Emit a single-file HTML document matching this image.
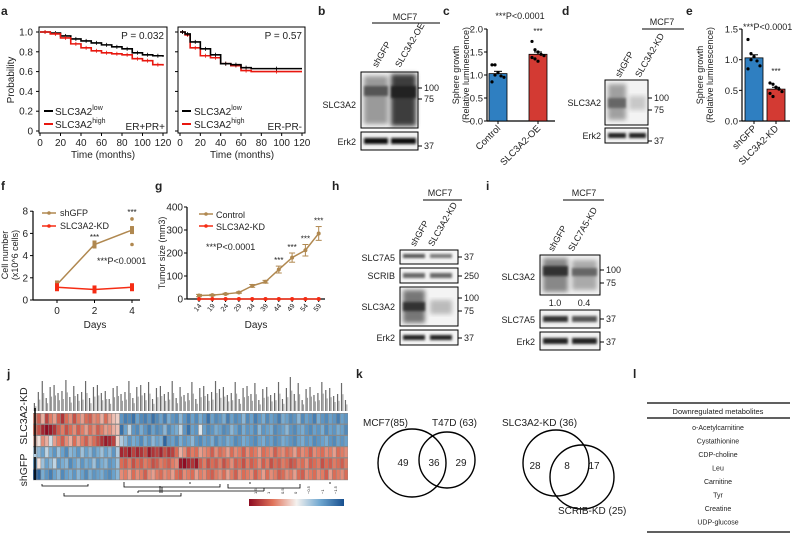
<!DOCTYPE html>
<html><head><meta charset="utf-8"><style>
html,body{margin:0;padding:0;background:#fff;}
svg{display:block;font-family:"Liberation Sans",sans-serif;}
text{fill:#222;}
</style></head><body>
<svg id="fig" width="798" height="534" viewBox="0 0 798 534">
<defs>
<filter id="bl" x="-20%" y="-50%" width="140%" height="200%"><feGaussianBlur stdDeviation="1.2"/></filter>
<filter id="bl2" x="-20%" y="-20%" width="140%" height="140%"><feGaussianBlur stdDeviation="2.5"/></filter>
<linearGradient id="cbar" x1="0" x2="1" y1="0" y2="0">
<stop offset="0" stop-color="#8e0c22"/><stop offset="0.25" stop-color="#e0735a"/><stop offset="0.5" stop-color="#f5f2ef"/><stop offset="0.75" stop-color="#6fa7d0"/><stop offset="1" stop-color="#174f8f"/></linearGradient>
</defs>
<g font-weight="bold" font-size="12">
<text x="1" y="15">a</text><text x="318" y="15">b</text><text x="443" y="15">c</text><text x="562" y="15">d</text><text x="686" y="15">e</text>
<text x="1" y="190">f</text><text x="155" y="190">g</text><text x="332" y="190">h</text><text x="486" y="190">i</text>
<text x="7" y="378">j</text><text x="356" y="378">k</text><text x="633" y="378">l</text>
</g>
<!-- panel a -->
<g font-size="10">
<rect x="39" y="27" width="128" height="106" fill="none" stroke="#000" stroke-width="1"/>
<rect x="178" y="27" width="127" height="106" fill="none" stroke="#000" stroke-width="1"/>
<g id="kmAxes"></g>
<text x="14" y="80" transform="rotate(-90 14 80)" text-anchor="middle">Probability</text>
<text x="103" y="158" text-anchor="middle">Time (months)</text>
<text x="242" y="158" text-anchor="middle">Time (months)</text>
<text x="164" y="39" text-anchor="end">P = 0.032</text>
<text x="302" y="39" text-anchor="end">P = 0.57</text>
<text x="165" y="130" text-anchor="end">ER+PR+</text>
<text x="302" y="130" text-anchor="end">ER-PR-</text>
<g>
<line x1="44" x2="53" y1="111" y2="111" stroke="#000" stroke-width="2"/>
<text x="55" y="115">SLC3A2<tspan font-size="7" dy="-5">low</tspan></text>
<line x1="44" x2="53" y1="124" y2="124" stroke="#e8170f" stroke-width="2"/>
<text x="55" y="128">SLC3A2<tspan font-size="7" dy="-5">high</tspan></text></g>
<g>
<line x1="182" x2="191" y1="111" y2="111" stroke="#000" stroke-width="2"/>
<text x="194" y="115">SLC3A2<tspan font-size="7" dy="-5">low</tspan></text>
<line x1="182" x2="191" y1="124" y2="124" stroke="#e8170f" stroke-width="2"/>
<text x="194" y="128">SLC3A2<tspan font-size="7" dy="-5">high</tspan></text></g>
<g id="kmLines"></g>
</g>
<!-- panel b blot -->
<g font-size="9">
<text x="405" y="20" text-anchor="middle">MCF7</text>
<line x1="372" x2="440" y1="23" y2="23" stroke="#000"/>
<text x="377" y="68" transform="rotate(-60 377 68)">shGFP</text>
<text x="400" y="68" transform="rotate(-60 400 68)">SLC3A2-OE</text>
<rect x="361" y="72" width="57" height="56" fill="#f2f2f2" stroke="#000"/>
<rect x="364" y="76" width="24" height="48" fill="#9a9a9a" filter="url(#bl2)"/>
<rect x="391" y="74" width="25" height="52" fill="#3d3d3d" filter="url(#bl2)"/>
<rect x="364" y="86" width="24" height="10" fill="#555" filter="url(#bl)"/>
<rect x="391" y="86" width="25" height="12" fill="#222" filter="url(#bl)"/>
<rect x="361" y="132" width="57" height="18" fill="#f2f2f2" stroke="#000"/>
<rect x="364" y="138" width="24" height="6" fill="#111" filter="url(#bl)"/>
<rect x="391" y="138" width="25" height="6" fill="#111" filter="url(#bl)"/>
<text x="356" y="108" text-anchor="end">SLC3A2</text>
<text x="356" y="145" text-anchor="end">Erk2</text>
<line x1="418" x2="422" y1="88" y2="88" stroke="#000"/><text x="424" y="91">100</text>
<line x1="418" x2="422" y1="99" y2="99" stroke="#000"/><text x="424" y="102">75</text>
<line x1="418" x2="422" y1="146" y2="146" stroke="#000"/><text x="424" y="149">37</text>
</g>
<!-- panel c -->
<g font-size="9">
<text x="520" y="19" text-anchor="middle" font-size="9">***P&lt;0.0001</text>
<text x="459" y="75" transform="rotate(-90 459 75)" text-anchor="middle" font-size="9">Sphere growth</text>
<text x="469" y="75" transform="rotate(-90 469 75)" text-anchor="middle" font-size="9">(Relative luminescence)</text>
<g id="cChart"></g>
</g>
<!-- panel d blot -->
<g font-size="9">
<text x="662" y="25" text-anchor="middle">MCF7</text>
<line x1="642" x2="684" y1="29" y2="29" stroke="#000"/>
<text x="620" y="78" transform="rotate(-60 620 78)">shGFP</text>
<text x="640" y="78" transform="rotate(-60 640 78)">SLC3A2-KD</text>
<rect x="605" y="80" width="43" height="45" fill="#f3f3f3" stroke="#000"/>
<rect x="608" y="84" width="18" height="36" fill="#a0a0a0" filter="url(#bl2)"/>
<rect x="608" y="98" width="18" height="10" fill="#666" filter="url(#bl)"/>
<rect x="629" y="96" width="17" height="14" fill="#c8c8c8" filter="url(#bl2)"/>
<rect x="605" y="128" width="43" height="15" fill="#f3f3f3" stroke="#000"/>
<rect x="608" y="133" width="18" height="5" fill="#222" filter="url(#bl)"/>
<rect x="629" y="133" width="17" height="5" fill="#222" filter="url(#bl)"/>
<text x="601" y="106" text-anchor="end">SLC3A2</text>
<text x="601" y="139" text-anchor="end">Erk2</text>
<line x1="648" x2="652" y1="98" y2="98" stroke="#000"/><text x="654" y="101">100</text>
<line x1="648" x2="652" y1="110" y2="110" stroke="#000"/><text x="654" y="113">75</text>
<line x1="648" x2="652" y1="141" y2="141" stroke="#000"/><text x="654" y="144">37</text>
</g>
<!-- panel e -->
<g font-size="9">
<text x="743" y="30" font-size="9">***P&lt;0.0001</text>
<text x="703" y="75" transform="rotate(-90 703 75)" text-anchor="middle" font-size="9">Sphere growth</text>
<text x="713" y="75" transform="rotate(-90 713 75)" text-anchor="middle" font-size="9">(Relative luminescence)</text>
<g id="eChart"></g>
</g>
<!-- panel f -->
<g font-size="10">
<text x="8" y="255" transform="rotate(-90 8 255)" text-anchor="middle" font-size="9">Cell number</text>
<text x="18" y="255" transform="rotate(-90 18 255)" text-anchor="middle" font-size="9">(x10^6 cells)</text>
<text x="95" y="328" text-anchor="middle">Days</text>
<text x="97" y="264" font-size="9">***P&lt;0.0001</text>
<g>
<line x1="42" x2="56" y1="213" y2="213" stroke="#b08850" stroke-width="1.5"/><circle cx="49" cy="213" r="1.8" fill="#b08850"/>
<text x="60" y="216" font-size="9">shGFP</text>
<line x1="42" x2="56" y1="226" y2="226" stroke="#f52c14" stroke-width="1.5"/><circle cx="49" cy="226" r="1.8" fill="#f52c14"/>
<text x="60" y="229" font-size="9">SLC3A2-KD</text></g>
<g id="fChart"></g>
</g>
<!-- panel g -->
<g font-size="10">
<text x="165" y="253" transform="rotate(-90 165 253)" text-anchor="middle" font-size="9">Tumor size (mm3)</text>
<text x="256" y="328" text-anchor="middle">Days</text>
<text x="206" y="250" font-size="9">***P&lt;0.0001</text>
<g>
<line x1="199" x2="213" y1="214" y2="214" stroke="#b08850" stroke-width="1.5"/><circle cx="206" cy="214" r="1.8" fill="#b08850"/>
<text x="216" y="218" font-size="9">Control</text>
<line x1="199" x2="213" y1="226" y2="226" stroke="#f52c14" stroke-width="1.5"/><circle cx="206" cy="226" r="1.8" fill="#f52c14"/>
<text x="216" y="230" font-size="9">SLC3A2-KD</text></g>
<g id="gChart"></g>
</g>
<!-- panel h blot -->
<g font-size="9">
<text x="440" y="196" text-anchor="middle">MCF7</text>
<line x1="423" x2="462" y1="200" y2="200" stroke="#000"/>
<text x="415" y="247" transform="rotate(-60 415 247)">shGFP</text>
<text x="433" y="247" transform="rotate(-60 433 247)">SLC3A2-KD</text>
<rect x="400" y="250" width="58" height="14" fill="#f4f4f4" stroke="#000"/>
<rect x="403" y="254" width="22" height="4" fill="#555" filter="url(#bl)"/>
<rect x="430" y="254" width="22" height="4" fill="#777" filter="url(#bl)"/>
<rect x="400" y="268" width="58" height="15" fill="#f4f4f4" stroke="#000"/>
<rect x="403" y="273" width="22" height="5" fill="#666" filter="url(#bl)"/>
<rect x="430" y="273" width="22" height="5" fill="#666" filter="url(#bl)"/>
<rect x="400" y="287" width="58" height="39" fill="#f4f4f4" stroke="#000"/>
<rect x="403" y="290" width="22" height="33" fill="#777" filter="url(#bl2)"/>
<rect x="403" y="302" width="22" height="9" fill="#333" filter="url(#bl)"/>
<rect x="430" y="300" width="22" height="14" fill="#bbb" filter="url(#bl2)"/>
<rect x="400" y="330" width="58" height="15" fill="#f4f4f4" stroke="#000"/>
<rect x="403" y="335" width="22" height="5" fill="#222" filter="url(#bl)"/>
<rect x="430" y="335" width="22" height="5" fill="#222" filter="url(#bl)"/>
<text x="395" y="261" text-anchor="end">SLC7A5</text>
<text x="395" y="279" text-anchor="end">SCRIB</text>
<text x="395" y="310" text-anchor="end">SLC3A2</text>
<text x="395" y="341" text-anchor="end">Erk2</text>
<line x1="458" x2="462" y1="257" y2="257" stroke="#000"/><text x="464" y="260">37</text>
<line x1="458" x2="462" y1="276" y2="276" stroke="#000"/><text x="464" y="279">250</text>
<line x1="458" x2="462" y1="298" y2="298" stroke="#000"/><text x="464" y="301">100</text>
<line x1="458" x2="462" y1="311" y2="311" stroke="#000"/><text x="464" y="314">75</text>
<line x1="458" x2="462" y1="338" y2="338" stroke="#000"/><text x="464" y="341">37</text>
</g>
<!-- panel i blot -->
<g font-size="9">
<text x="584" y="196" text-anchor="middle">MCF7</text>
<line x1="563" x2="604" y1="200" y2="200" stroke="#000"/>
<text x="553" y="252" transform="rotate(-60 553 252)">shGFP</text>
<text x="573" y="252" transform="rotate(-60 573 252)">SLC7A5-KD</text>
<rect x="540" y="255" width="60" height="40" fill="#f2f2f2" stroke="#000"/>
<rect x="543" y="258" width="25" height="34" fill="#888" filter="url(#bl2)"/>
<rect x="543" y="266" width="25" height="10" fill="#333" filter="url(#bl)"/>
<rect x="572" y="260" width="25" height="30" fill="#aaa" filter="url(#bl2)"/>
<rect x="572" y="268" width="25" height="8" fill="#666" filter="url(#bl)"/>
<text x="555" y="306" text-anchor="middle">1.0</text><text x="584" y="306" text-anchor="middle">0.4</text>
<rect x="540" y="310" width="60" height="18" fill="#f2f2f2" stroke="#000"/>
<rect x="543" y="316" width="25" height="6" fill="#333" filter="url(#bl)"/>
<rect x="572" y="316" width="25" height="6" fill="#555" filter="url(#bl)"/>
<rect x="540" y="332" width="60" height="18" fill="#f2f2f2" stroke="#000"/>
<rect x="543" y="338" width="25" height="6" fill="#222" filter="url(#bl)"/>
<rect x="572" y="338" width="25" height="6" fill="#222" filter="url(#bl)"/>
<text x="535" y="280" text-anchor="end">SLC3A2</text>
<text x="535" y="323" text-anchor="end">SLC7A5</text>
<text x="535" y="345" text-anchor="end">Erk2</text>
<line x1="600" x2="604" y1="270" y2="270" stroke="#000"/><text x="606" y="273">100</text>
<line x1="600" x2="604" y1="283" y2="283" stroke="#000"/><text x="606" y="286">75</text>
<line x1="600" x2="604" y1="319" y2="319" stroke="#000"/><text x="606" y="322">37</text>
<line x1="600" x2="604" y1="342" y2="342" stroke="#000"/><text x="606" y="345">37</text>
</g>
<!-- panel j -->
<g>
<g id="hmLabels"></g>
<g id="heatmap"></g>
<line x1="35" x2="35" y1="408" y2="454" stroke="#000" stroke-width="1.5"/>
<line x1="35" x2="35" y1="457" y2="480" stroke="#000" stroke-width="1.5"/>
<text x="27" y="416" transform="rotate(-90 27 416)" text-anchor="middle" font-size="10.5">SLC3A2-KD</text>
<text x="27" y="470" transform="rotate(-90 27 470)" text-anchor="middle" font-size="10.5">shGFP</text>
<path d="M64 493 V496 H181 V493 M42 484 V486 H88 V484 M124 484 V487 H220 V484 M162 487 V493 M160 493 V486 M124 482 V484 M190 482 V484 M228 484 V488 H300 V484 M264 488 V491 M138 491 V493 M264 491 H138 M250 482 V484 M330 482 V484" fill="none" stroke="#000" stroke-width="0.8"/>
<rect x="249" y="499" width="95" height="7" fill="url(#cbar)"/>
<g font-size="4" fill="#333">
<text x="257" y="494" transform="rotate(-90 257 494)">1.5</text><text x="270" y="494" transform="rotate(-90 270 494)">1</text>
<text x="284" y="494" transform="rotate(-90 284 494)">0.5</text><text x="297" y="494" transform="rotate(-90 297 494)">0</text>
<text x="310" y="494" transform="rotate(-90 310 494)">−0.5</text><text x="324" y="494" transform="rotate(-90 324 494)">−1</text>
<text x="337" y="494" transform="rotate(-90 337 494)">−1.5</text></g>
</g>
<!-- panel k -->
<g font-size="10" fill="none">
<circle cx="412" cy="463" r="34" fill="none" stroke="#000" stroke-width="1.4"/>
<circle cx="447" cy="460" r="28" fill="none" stroke="#000" stroke-width="1.4"/>
<circle cx="556" cy="463" r="33" fill="none" stroke="#000" stroke-width="1.4"/>
<circle cx="582" cy="477" r="32" fill="none" stroke="#000" stroke-width="1.4"/>
<text x="363" y="426">MCF7(85)</text><text x="432" y="426">T47D (63)</text>
<text x="403" y="466" text-anchor="middle">49</text><text x="434" y="466" text-anchor="middle">36</text><text x="461" y="466" text-anchor="middle">29</text>
<text x="502" y="426">SLC3A2-KD (36)</text><text x="558" y="514">SCRIB-KD (25)</text>
<text x="535" y="469" text-anchor="middle">28</text><text x="567" y="469" text-anchor="middle">8</text><text x="594" y="469" text-anchor="middle">17</text>
</g>
<!-- panel l -->
<g font-size="7" text-anchor="middle">
<line x1="647" x2="790" y1="403" y2="403" stroke="#000" stroke-width="1.3"/>
<line x1="647" x2="790" y1="418" y2="418" stroke="#000" stroke-width="1.3"/>
<line x1="647" x2="790" y1="532" y2="532" stroke="#000" stroke-width="1.3"/>
<text x="718" y="414" font-size="7.5">Downregulated metabolites</text>
<text x="718" y="430">o-Acetylcarnitine</text><text x="718" y="443.5">Cystathionine</text>
<text x="718" y="457">CDP-choline</text><text x="718" y="470.5">Leu</text>
<text x="718" y="484">Carnitine</text><text x="718" y="497.5">Tyr</text>
<text x="718" y="511">Creatine</text><text x="718" y="524.5">UDP-glucose</text>
</g>
</svg>
<script>
// ---------- data ----------
const kmTicksY = [0, 0.2, 0.4, 0.6, 0.8, 1.0];
const kmTickLabelsY = ["0", "0.2", "0.4", "0.6", "0.8", "1.0"];
const kmTicksX = [0, 20, 40, 60, 80, 100, 120];
const km1LowT = [0,10,20,30,40,50,60,70,80,90,100,110,120];
const km1LowP = [1,0.99,0.96,0.93,0.91,0.89,0.87,0.85,0.83,0.79,0.77,0.76,0.75];
const km1HighT = [0,10,20,30,40,50,60,70,80,90,100,110,120];
const km1HighP = [1,0.98,0.94,0.88,0.84,0.81,0.79,0.78,0.77,0.73,0.71,0.67,0.66];
const km2LowT = [0,5,10,20,30,40,50,60,70,120];
const km2LowP = [1,0.98,0.9,0.83,0.77,0.68,0.67,0.64,0.63,0.63];
const km2HighT = [0,5,10,20,30,40,50,60,70,120];
const km2HighP = [1,0.97,0.84,0.76,0.74,0.68,0.66,0.61,0.6,0.6];

const cCategories = ["Control", "SLC3A2-OE"];
const cMeans = [1.03, 1.45];
const cErr = [0.05, 0.05];
const cPointsControl = [1.22, 1.22, 1.05, 0.98, 0.95, 0.85, 1.0];
const cPointsOE = [1.73, 1.55, 1.5, 1.45, 1.42, 1.38, 1.35, 1.3];
const cTicks = [0, 0.5, 1.0, 1.5, 2.0];
const cTickLabels = ["0.0", "0.5", "1.0", "1.5", "2.0"];

const eCategories = ["shGFP", "SLC3A2-KD"];
const eMeans = [1.03, 0.52];
const eErr = [0.05, 0.03];
const ePointsGFP = [1.33, 1.1, 1.05, 0.98, 0.9, 0.85, 1.0];
const ePointsKD = [0.62, 0.6, 0.55, 0.52, 0.48, 0.45, 0.4, 0.55];
const eTicks = [0, 0.5, 1.0, 1.5];
const eTickLabels = ["0.0", "0.5", "1.0", "1.5"];

const fDays = [0, 2, 4];
const fGFP = [1.4, 5.0, 6.3];
const fKD = [1.15, 0.95, 1.15];
const fGFPPoints4 = [7.3, 6.5, 5.0];
const fTicks = [0, 2, 4, 6, 8];

const gDays = ["14","19","24","29","34","39","44","49","54","59"];
const gControl = [15, 17, 22, 28, 57, 75, 128, 180, 212, 285];
const gControlErr = [5, 3, 3, 3, 6, 6, 15, 20, 25, 30];
const gKD = [0, 0, 0, 0, 0, 0, 0, 0, 0, 0];
const gTicks = [0, 100, 200, 300, 400];

const hmKD1 = [0.6,0.9,0.4,1.1,0.7,0.5,0.9,1.2,0.8,0.6,1.0,0.7,0.5,0.8,0.9,0.6,0.7,0.4,0.8,0.5,0.3,0.2,-0.9,-1.1,-1.0,-1.2,-0.8,-1.0,-1.1,-0.9,-1.2,-1.0,-0.8,-1.1,-0.7,-0.9,-1.0,-0.6,-0.9,-1.1,-0.8,-1.0,-0.7,-0.9,-1.2,-0.8,-1.0,-0.9,-0.7,-1.1,-0.8,-1.0,-0.9,-0.6,-1.0,-0.8,-1.1,-0.9,-0.7,-1.0,-0.8,-0.9,-1.1,-0.7,-0.8,-1.0,-0.9,-0.6,-1.0,-0.8,-0.9,-1.1,-0.7,-0.9,-1.0,-0.8,-0.9,-1.1,-0.8,-0.9];
const hmKD2 = [0.8,1.0,1.3,1.5,1.4,1.2,0.9,0.7,1.0,0.8,0.6,0.9,0.7,0.5,0.8,0.6,0.9,0.7,0.5,0.6,0.4,0.3,-1.2,-0.8,-0.3,-0.9,-1.0,-0.7,-0.9,-1.1,-0.8,-1.0,-0.9,-0.6,-1.0,-0.8,-0.7,-0.3,-0.9,-1.2,-0.8,-0.9,-0.1,-0.8,-1.0,-0.9,-0.7,-0.8,-1.0,-0.9,-0.6,-0.8,-1.0,-0.7,-0.9,-0.8,-1.0,-0.6,-0.9,-0.8,-0.7,-1.0,-0.9,-0.8,-0.6,-0.9,-1.0,-0.8,-0.7,-0.9,-1.0,-0.8,-0.9,-0.7,-1.0,-0.8,-0.9,-0.7,-0.8,-1.0];
const hmKD3 = [0.3,0.1,0.6,0.4,-0.2,0.5,0.7,0.9,0.6,0.4,0.8,0.5,0.7,0.9,0.6,0.8,1.0,1.2,1.4,1.3,1.1,0.2,-0.4,-0.6,-0.9,-0.7,-0.8,-1.0,-0.7,-0.9,-0.6,-0.8,-0.7,-1.3,-0.9,-0.8,-1.0,-0.7,-0.9,-0.8,-0.6,-0.9,-1.0,-0.8,-0.9,-0.7,-1.0,-0.8,-0.9,-0.7,-0.8,-1.0,-0.9,-0.7,-0.8,-0.9,-1.0,-0.8,-0.7,-0.9,-0.8,-1.0,-0.9,-0.7,-0.8,-0.9,-1.0,-0.8,-0.7,-0.9,-0.8,-1.0,-0.9,-0.8,-0.7,-0.9,-1.0,-0.8,-0.9,-0.8];
const hmGFP1 = [-0.4,-0.6,-0.8,-0.3,-0.7,-0.9,-0.5,-0.8,-1.0,-0.6,-0.7,-0.9,-0.5,-0.8,-0.6,-0.9,-0.7,-0.5,-0.8,-0.6,-0.9,-0.4,1.3,1.2,1.4,1.1,1.3,1.2,1.0,1.4,1.2,1.1,1.3,1.0,1.2,1.1,0.8,0.4,0.6,0.9,0.7,0.8,0.5,0.6,0.7,0.9,0.6,0.8,0.7,0.5,0.8,0.6,0.7,0.9,0.6,0.8,0.7,0.5,0.8,0.7,0.6,0.9,0.7,0.6,0.8,0.7,0.5,0.8,0.6,0.7,0.9,0.6,0.7,0.8,0.6,0.7,0.5,0.8,0.7,0.6];
const hmGFP2 = [-0.9,0.1,-0.5,-0.8,-0.6,-0.3,-0.9,-0.7,-0.6,-1.0,-0.8,-0.6,-0.9,-0.7,-0.8,-0.5,-0.9,-0.7,-0.6,-0.9,-0.8,-0.5,0.8,0.9,0.7,1.0,0.8,0.9,0.7,0.8,1.0,0.9,0.7,0.8,0.9,0.7,0.6,1.4,1.5,1.3,1.2,1.4,0.9,0.7,1.0,0.8,0.9,0.7,1.0,0.8,0.6,0.9,0.8,1.0,0.7,0.9,0.8,0.6,0.9,0.7,1.0,0.8,0.9,0.7,0.8,1.0,0.9,0.7,0.8,0.6,0.9,0.8,0.7,1.0,0.8,0.9,0.7,0.8,0.9,0.7];
const hmGFP3 = [-1.5,-1.3,-0.7,-0.9,-1.1,-0.8,-0.6,-1.0,-0.8,-0.7,-0.9,-0.6,-0.8,-1.0,-0.7,-0.9,-0.8,-0.7,-0.9,-1.0,-0.8,-0.6,0.6,0.7,0.5,0.8,0.6,0.7,0.9,0.6,0.5,0.7,0.8,0.6,0.7,0.5,0.8,0.9,0.6,0.7,0.8,0.5,0.7,0.6,0.8,0.9,0.7,0.6,0.8,0.5,0.7,0.9,0.6,0.8,0.7,0.6,0.9,0.7,0.5,0.8,0.6,0.7,0.9,0.8,0.6,0.7,0.5,0.8,0.9,0.6,0.7,0.8,0.6,0.7,0.9,0.5,0.8,0.7,0.6,0.8];

// ---------- helpers ----------
const NS = "http://www.w3.org/2000/svg";
function mk(parent, tag, attrs, txt) {
  const e = document.createElementNS(NS, tag);
  for (const k in attrs) e.setAttribute(k, attrs[k]);
  if (txt !== undefined) e.textContent = txt;
  parent.appendChild(e);
  return e;
}
function stepPath(ts, ps, sx, sy) {
  let d = "M" + sx(ts[0]) + " " + sy(ps[0]);
  for (let i = 1; i < ts.length; i++) {
    d += " H" + sx(ts[i]) + " V" + sy(ps[i]);
  }
  return d;
}

// ---------- panel a ----------
(function () {
  const ax = document.getElementById("kmAxes");
  const ln = document.getElementById("kmLines");
  const sy = p => 131 - p * 99;
  const sx1 = t => 40 + t * 123 / 120;
  const sx2 = t => 180 + t * 122 / 120;
  kmTicksY.forEach((v, i) => {
    mk(ax, "line", {x1: 36, x2: 39, y1: sy(v), y2: sy(v), stroke: "#000"});
    const t = mk(ax, "text", {x: 33, y: sy(v) + 3.5, "text-anchor": "end"}, kmTickLabelsY[i]);
    
    
    mk(ax, "line", {x1: 175, x2: 178, y1: sy(v), y2: sy(v), stroke: "#000"});
  });
  kmTicksX.forEach(v => {
    mk(ax, "line", {x1: sx1(v), x2: sx1(v), y1: 133, y2: 136, stroke: "#000"});
    const t1 = mk(ax, "text", {x: sx1(v), y: 146, "text-anchor": "middle"}, String(v));
    
    
    mk(ax, "line", {x1: sx2(v), x2: sx2(v), y1: 133, y2: 136, stroke: "#000"});
    const t2 = mk(ax, "text", {x: sx2(v), y: 146, "text-anchor": "middle"}, String(v));
    
    
  });
  const series = [
    [km1LowT, km1LowP, sx1, "#000", "km-erpr-pos-low"],
    [km1HighT, km1HighP, sx1, "#e8170f", "km-erpr-pos-high"],
    [km2HighT, km2HighP, sx2, "#e8170f", "km-erpr-neg-high"],
    [km2LowT, km2LowP, sx2, "#000", "km-erpr-neg-low"]
  ];
  series.forEach(s => {
    const p = mk(ln, "path", {d: stepPath(s[0], s[1], s[2], sy), fill: "none", stroke: s[3], "stroke-width": 1.6});
    
    
    for (let i = 1; i < s[0].length; i++) {
      const x = s[2]((s[0][i] + s[0][i - 1]) / 2);
      const y = sy(s[1][i - 1]);
      mk(ln, "line", {x1: x, x2: x, y1: y - 2, y2: y + 2, stroke: s[3], "stroke-width": 0.8});
    }
  });
})();

// ---------- bar charts c, e ----------
function barChart(gid, axisX, y0, pxPerUnit, xEnd, cats, means, errs, pts, ticks, labels, centers, colors, starIdx, starY) {
  const g = document.getElementById(gid);
  const sy = v => y0 - v * pxPerUnit;
  mk(g, "line", {x1: axisX, x2: axisX, y1: sy(ticks[ticks.length - 1]), y2: y0, stroke: "#000", "stroke-width": 1.2});
  mk(g, "line", {x1: axisX, x2: xEnd, y1: y0, y2: y0, stroke: "#000", "stroke-width": 1.2});
  ticks.forEach((v, i) => {
    mk(g, "line", {x1: axisX - 3, x2: axisX, y1: sy(v), y2: sy(v), stroke: "#000"});
    const t = mk(g, "text", {x: axisX - 4, y: sy(v) + 3.5, "text-anchor": "end", "font-size": 9.5}, labels[i]);
    
    
  });
  cats.forEach((c, i) => {
    const cx = centers[i];
    const b = mk(g, "rect", {x: cx - 9, y: sy(means[i]), width: 18, height: y0 - sy(means[i]), fill: colors[i], stroke: "#000", "stroke-width": 0.8});
    
    
    mk(g, "line", {x1: cx, x2: cx, y1: sy(means[i] + errs[i]), y2: sy(means[i]), stroke: "#000"});
    mk(g, "line", {x1: cx - 4, x2: cx + 4, y1: sy(means[i] + errs[i]), y2: sy(means[i] + errs[i]), stroke: "#000"});
    pts[i].forEach((v, k) => {
      mk(g, "circle", {cx: cx - 6 + (k % 5) * 3, cy: sy(v), r: 1.6, fill: "#000"});
    });
    mk(g, "line", {x1: cx, x2: cx, y1: y0, y2: y0 + 3, stroke: "#000"});
    const t = mk(g, "text", {x: cx + 3, y: y0 + 8, "text-anchor": "end", "font-size": 9.5, transform: "rotate(-45 " + (cx + 3) + " " + (y0 + 8) + ")"}, c);
    
    
  });
  const s = mk(g, "text", {x: centers[starIdx], y: starY, "text-anchor": "middle", "font-size": 8}, "***");
  
  
}
barChart("cChart", 487, 121, 46, 555, cCategories, cMeans, cErr, [cPointsControl, cPointsOE], cTicks, cTickLabels, [498, 538], ["#2f7fc1", "#d33a33"], 1, 34);
barChart("eChart", 742, 121, 61.3, 790, eCategories, eMeans, eErr, [ePointsGFP, ePointsKD], eTicks, eTickLabels, [754, 776], ["#2f7fc1", "#d33a33"], 1, 74);

// ---------- panel f ----------
(function () {
  const g = document.getElementById("fChart");
  const sy = v => 300 - v * 11.1;
  const sx = d => 57 + d * 18.75;
  mk(g, "line", {x1: 33, x2: 33, y1: 211, y2: 300, stroke: "#000", "stroke-width": 1.2});
  mk(g, "line", {x1: 33, x2: 140, y1: 300, y2: 300, stroke: "#000", "stroke-width": 1.2});
  fTicks.forEach(v => {
    mk(g, "line", {x1: 30, x2: 33, y1: sy(v), y2: sy(v), stroke: "#000"});
    const t = mk(g, "text", {x: 28, y: sy(v) + 3.5, "text-anchor": "end"}, String(v));
    
    
  });
  fDays.forEach(d => {
    mk(g, "line", {x1: sx(d), x2: sx(d), y1: 300, y2: 303, stroke: "#000"});
    const t = mk(g, "text", {x: sx(d), y: 314, "text-anchor": "middle"}, String(d));
    
    
  });
  [[fGFP, "#b08850", "line-shgfp"], [fKD, "#f52c14", "line-slc3a2-kd"]].forEach(s => {
    const p = mk(g, "polyline", {points: fDays.map((d, i) => sx(d) + "," + sy(s[0][i])).join(" "), fill: "none", stroke: s[1], "stroke-width": 1.5});
    
    
    fDays.forEach((d, i) => {
      mk(g, "rect", {x: sx(d) - 2, y: sy(s[0][i]) - 4, width: 4, height: 8, fill: s[1]});
    });
  });
  fGFPPoints4.forEach(v => {
    const c = mk(g, "circle", {cx: sx(4), cy: sy(v), r: 1.8, fill: "#b08850"});
    
    
  });
  mk(g, "text", {x: sx(2), y: 240, "text-anchor": "middle", "font-size": 8}, "***");
  mk(g, "text", {x: sx(4), y: 215, "text-anchor": "middle", "font-size": 8}, "***");
})();

// ---------- panel g ----------
(function () {
  const g = document.getElementById("gChart");
  const sy = v => 299 - v * 0.23;
  const sx = i => 199 + i * 13.3;
  mk(g, "line", {x1: 187, x2: 187, y1: 207, y2: 299, stroke: "#000", "stroke-width": 1.2});
  mk(g, "line", {x1: 187, x2: 325, y1: 299, y2: 299, stroke: "#000", "stroke-width": 1.2});
  gTicks.forEach(v => {
    mk(g, "line", {x1: 184, x2: 187, y1: sy(v), y2: sy(v), stroke: "#000"});
    const t = mk(g, "text", {x: 183, y: sy(v) + 3.5, "text-anchor": "end"}, String(v));
    
    
  });
  gDays.forEach((d, i) => {
    mk(g, "line", {x1: sx(i), x2: sx(i), y1: 299, y2: 302, stroke: "#000"});
    const t = mk(g, "text", {x: sx(i) + 3, y: 306, "text-anchor": "end", "font-size": 7, transform: "rotate(-50 " + (sx(i) + 3) + " 306)"}, d);
    
    
  });
  gControl.forEach((v, i) => {
    mk(g, "line", {x1: sx(i), x2: sx(i), y1: sy(v + gControlErr[i]), y2: sy(v - gControlErr[i]), stroke: "#b08850"});
    mk(g, "line", {x1: sx(i) - 3, x2: sx(i) + 3, y1: sy(v + gControlErr[i]), y2: sy(v + gControlErr[i]), stroke: "#b08850"});
    mk(g, "line", {x1: sx(i) - 3, x2: sx(i) + 3, y1: sy(v - gControlErr[i]), y2: sy(v - gControlErr[i]), stroke: "#b08850"});
    if (i >= 6) mk(g, "text", {x: sx(i), y: sy(v + gControlErr[i]) - 3, "text-anchor": "middle", "font-size": 8}, "***");
  });
  [[gControl, "#b08850", "line-control"], [gKD, "#f52c14", "line-slc3a2-kd"]].forEach(s => {
    const p = mk(g, "polyline", {points: s[0].map((v, i) => sx(i) + "," + sy(v)).join(" "), fill: "none", stroke: s[1], "stroke-width": 1.5});
    
    
    s[0].forEach((v, i) => mk(g, "circle", {cx: sx(i), cy: sy(v), r: 2, fill: s[1]}));
  });
})();

// ---------- panel j heatmap ----------
(function () {
  const g = document.getElementById("heatmap");
  const lab = document.getElementById("hmLabels");
  const rows = [hmKD1, hmKD2, hmKD3, hmGFP1, hmGFP2, hmGFP3];
  const n = Math.max.apply(null, rows.map(r => r.length));
  const x0 = 33, y0 = 413, w = 315 / n, h = 11.2;
  const stops = [[-1.5, [23, 79, 143]], [-0.75, [111, 167, 208]], [0, [245, 242, 239]], [0.75, [224, 115, 90]], [1.5, [142, 12, 34]]];
  function col(v) {
    v = Math.max(-1.5, Math.min(1.5, v));
    for (let i = 0; i < stops.length - 1; i++) {
      if (v <= stops[i + 1][0]) {
        const t = (v - stops[i][0]) / (stops[i + 1][0] - stops[i][0]);
        const a = stops[i][1], b = stops[i + 1][1];
        return "rgb(" + a.map((c, k) => Math.round(c + (b[k] - c) * t)).join(",") + ")";
      }
    }
    return "rgb(142,12,34)";
  }
  mk(g, "rect", {x: x0, y: y0, width: 315, height: h * 6, fill: "#8a8a8a"});
  rows.forEach((r, ri) => {
    r.forEach((v, ci) => {
      const c = mk(g, "rect", {x: x0 + ci * w + 0.3, y: y0 + ri * h + 0.6, width: w - 0.6, height: h - 1.2, fill: col(v)});
      
      
    });
  });
  for (let ci = 0; ci < n; ci++) {
    const len = 8 + ((ci * 7) % 19) + ((ci * 13) % 9);
    mk(lab, "rect", {x: x0 + ci * w + 0.8, y: y0 - 2 - len, width: 1.2, height: len, fill: "#6a6a6a"});
    mk(lab, "rect", {x: x0 + ci * w + 2.3, y: y0 - 2 - len * 0.6, width: 1, height: len * 0.6, fill: "#9a9a9a"});
  }
})();
</script>
</body></html>
